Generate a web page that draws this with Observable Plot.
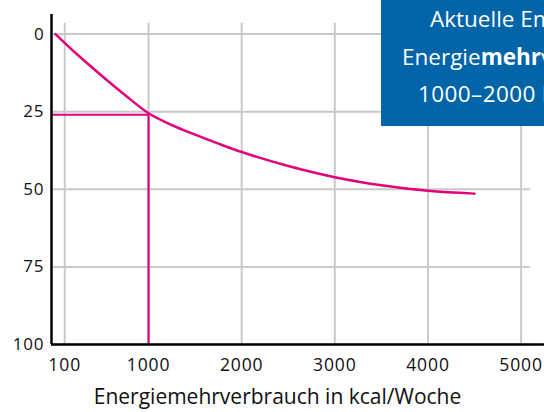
<!DOCTYPE html>
<html>
<head>
<meta charset="utf-8">
<script src="https://cdn.jsdelivr.net/npm/d3@7"></script>
<script src="https://cdn.jsdelivr.net/npm/@observablehq/plot@0.6"></script>
<style>
  html, body { margin: 0; padding: 0; background: #fff; }
  #wrap { position: relative; width: 544px; height: 412px; overflow: hidden; font-family: "Open Sans", sans-serif; }
  #box { position: absolute; left: 381px; top: 0; width: 260px; height: 126px; background: #0064a8; color: #fff; font-size: 22.5px; line-height: 37.5px; }
  #box div { position: absolute; white-space: nowrap; }
  #box b { font-weight: 700; }
  #chart svg text { letter-spacing: 0.9px; }
  #chart svg .xlabel text, #chart svg text.xlabel { letter-spacing: 0; }
</style>
</head>
<body>
<div id="wrap">
  <div id="chart"></div>
  <div id="box">
    <div style="left:49px; top:0px;">Aktuelle Empfehlung:</div>
    <div style="left:21px; top:37.5px;">Energie<b>mehr</b>verbrauch</div>
    <div style="left:37px; top:75px; letter-spacing:0.4px;">1000–2000 kcal/Woche</div>
  </div>
</div>
<script>
// Data
const energy = [0, 250, 500, 750, 1000, 1250, 1500, 1750, 2000, 2500, 3000, 3500, 4000, 4500];
const share  = [0, 7.0, 13.5, 19.7, 25.5, 29.3, 32.4, 35.3, 38.0, 42.5, 46.1, 48.7, 50.5, 51.4];
const xTicks = [100, 1000, 2000, 3000, 4000, 5000];
const yTicks = [0, 25, 50, 75, 100];
const refX = 1000;
const refY = 26;
const xLabel = "Energiemehrverbrauch in kcal/Woche";

// Scale extents
const xMin = -42, xMax = 5251, gridXEnd = 5100;
const yMin = -6.3, yMax = 100, gridYTop = -3.5;

const data = energy.map((e, i) => ({energy: e, share: share[i]}));
const magenta = "#e3007b";
const grid = "#c9c9c9";

const chart = Plot.plot({
  width: 544,
  height: 412,
  marginLeft: 51,
  marginRight: 0,
  marginTop: 14,
  marginBottom: 68,
  style: {fontFamily: "'Open Sans', sans-serif", fontSize: "17px", color: "#111"},
  x: {domain: [xMin, xMax]},
  y: {domain: [yMin, yMax], reverse: true},
  marks: [
    Plot.ruleX(xTicks, {y1: gridYTop, y2: yMax, stroke: grid, strokeWidth: 2}),
    Plot.ruleY(yTicks, {x1: xMin, x2: gridXEnd, stroke: grid, strokeWidth: 2}),
    Plot.ruleY([refY], {x1: xMin, x2: refX, stroke: magenta, strokeWidth: 2.2}),
    Plot.ruleX([refX], {y1: refY, y2: yMax, stroke: magenta, strokeWidth: 2.2}),
    Plot.line(data, {x: "energy", y: "share", stroke: magenta, strokeWidth: 2.5, curve: "catmull-rom"}),
    Plot.ruleX([xMin], {y1: yMin, y2: yMax, stroke: "#000", strokeWidth: 2.5}),
    Plot.ruleY([yMax], {x1: xMin, x2: xMax, stroke: "#000", strokeWidth: 2.5}),
    Plot.axisY({ticks: yTicks, tickSize: 0, tickPadding: 7, label: null, fontSize: 17}),
    Plot.axisX({ticks: xTicks, tickSize: 0, tickPadding: 14, label: null, fontSize: 17.5, tickFormat: d => String(d)}),
    Plot.text([xLabel], {frameAnchor: "bottom", dx: -20.5, dy: 59, fontSize: 21, text: d => d, className: "xlabel"})
  ]
});
document.getElementById("chart").appendChild(chart);
</script>
</body>
</html>
